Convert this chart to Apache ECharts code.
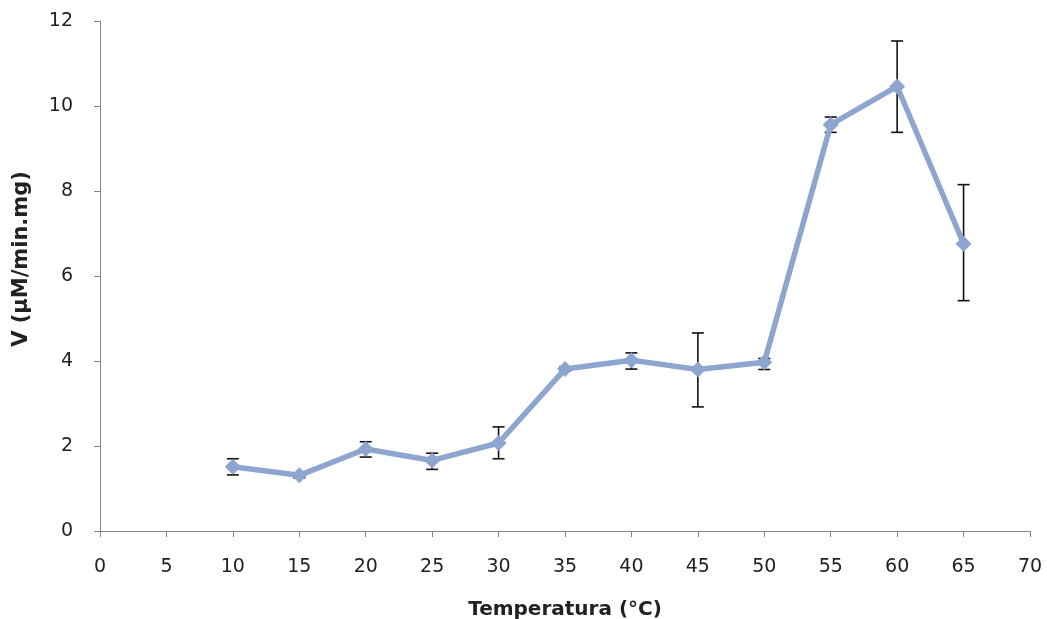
<!DOCTYPE html>
<html>
<head>
<meta charset="utf-8">
<script src="https://cdn.jsdelivr.net/npm/echarts@6/dist/echarts.min.js"></script>
<style>
html,body{margin:0;padding:0;background:#fff;overflow:hidden;}
#chart{width:1047px;height:619px;}
</style>
</head>
<body>
<div id="chart"></div>
<script>
const temperatures = [10, 15, 20, 25, 30, 35, 40, 45, 50, 55, 60, 65];
const velocity     = [1.51, 1.31, 1.93, 1.66, 2.07, 3.81, 4.02, 3.80, 3.97, 9.56, 10.46, 6.76];
const errLow       = [1.32, 1.25, 1.74, 1.45, 1.70, 3.76, 3.81, 2.92, 3.80, 9.38, 9.38, 5.42];
const errHigh      = [1.70, 1.37, 2.10, 1.83, 2.45, 3.86, 4.19, 4.66, 4.06, 9.74, 11.53, 8.15];
const xTicks = [0, 5, 10, 15, 20, 25, 30, 35, 40, 45, 50, 55, 60, 65, 70];
const yTicks = [0, 2, 4, 6, 8, 10, 12];

const lineData = temperatures.map((t, i) => [t, velocity[i]]);
const errData = temperatures.map((t, i) => [t, errLow[i], errHigh[i]]);

const chart = echarts.init(document.getElementById('chart'));
const font = '"DejaVu Sans", Verdana, sans-serif';
chart.setOption({
  animation: false,
  backgroundColor: '#ffffff',
  grid: {left: 100, right: 17, top: 21, bottom: 88, containLabel: false, outerBoundsMode: 'none'},
  xAxis: {
    type: 'value',
    min: xTicks[0], max: xTicks[xTicks.length - 1], interval: 5,
    name: 'Temperatura (°C)',
    nameLocation: 'middle', nameGap: 69,
    nameTextStyle: {fontFamily: font, fontWeight: 'bold', fontSize: 20, color: '#222'},
    axisLine: {lineStyle: {color: '#868686', width: 1}},
    axisTick: {show: true, length: 6, inside: false, lineStyle: {color: '#868686'}},
    axisLabel: {fontFamily: font, fontSize: 19, color: '#222', margin: 27},
    splitLine: {show: false}
  },
  yAxis: {
    type: 'value',
    min: yTicks[0], max: yTicks[yTicks.length - 1], interval: 2,
    name: 'V (µM/min.mg)',
    nameLocation: 'middle', nameGap: 68,
    nameTextStyle: {fontFamily: font, fontWeight: 'bold', fontSize: 21, color: '#222', padding: [0, 0, 0, 34]},
    axisLine: {show: true, lineStyle: {color: '#868686', width: 1}},
    axisTick: {show: true, length: 6, inside: false, lineStyle: {color: '#868686'}},
    axisLabel: {fontFamily: font, fontSize: 19, color: '#222', margin: 27},
    splitLine: {show: false}
  },
  series: [
    {
      type: 'custom',
      z: 1,
      data: errData,
      renderItem: function (params, api) {
        const x = api.value(0);
        const lo = api.coord([x, api.value(1)]);
        const hi = api.coord([x, api.value(2)]);
        const hw = 6;
        const style = {stroke: '#111', lineWidth: 1.6};
        return {
          type: 'group',
          children: [
            {type: 'line', shape: {x1: lo[0], y1: lo[1], x2: hi[0], y2: hi[1]}, style: style},
            {type: 'line', shape: {x1: lo[0] - hw, y1: lo[1], x2: lo[0] + hw, y2: lo[1]}, style: style},
            {type: 'line', shape: {x1: hi[0] - hw, y1: hi[1], x2: hi[0] + hw, y2: hi[1]}, style: style}
          ]
        };
      }
    },
    {
      type: 'line',
      z: 2,
      data: lineData,
      symbol: 'diamond',
      symbolSize: 16,
      lineStyle: {color: '#8DA5CF', width: 5.5},
      itemStyle: {color: '#8DA5CF'}
    }
  ]
});
</script>
</body>
</html>
